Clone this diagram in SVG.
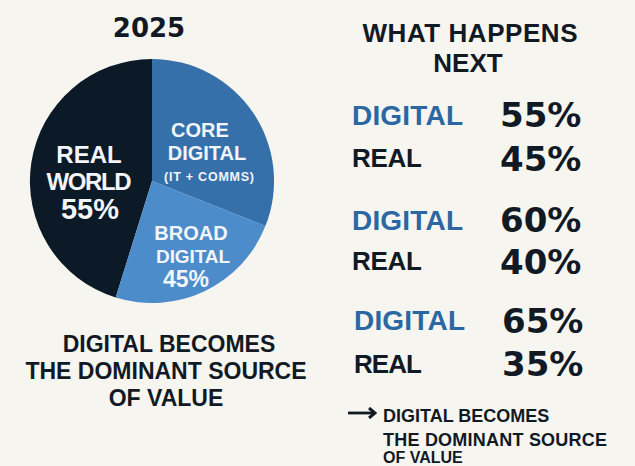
<svg xmlns="http://www.w3.org/2000/svg" width="635" height="466" viewBox="0 0 635 466">
  <defs>
    <style>
      text { font-family: "Liberation Sans", Arial, sans-serif; font-weight: bold; }
      .dark { fill: #111a24; }
      .blue { fill: #2b67a3; }
      .white { fill: #f2f5f9; }
      .mid { text-anchor: middle; }
      .pct { font-family: "DejaVu Sans", "Liberation Sans", sans-serif; font-size: 34px; fill: #111a24; }
    </style>
    <marker id="arrowhead" viewBox="0 0 10 12" refX="8" refY="6" markerWidth="10" markerHeight="12" markerUnits="userSpaceOnUse" orient="auto">
      <path d="M2,1 L8,6 L2,11" fill="none" stroke="#111a24" stroke-width="3"/>
    </marker>
  </defs>
  <rect width="635" height="466" fill="#f7f5f0"/>

  <g id="title-2025">
    <text class="dark mid" x="149" y="37" font-size="26" style="font-family: 'DejaVu Sans', 'Liberation Sans', sans-serif">2025</text>
  </g>

  <g id="pie">
    <path id="real-world" d="M152,181 L152,59 A122,122 0 0 0 115.7,297.5 Z" fill="#0c1926"/>
    <path id="core-digital" d="M152,181 L152,59 A122,122 0 0 1 265.4,226.1 Z" fill="#3570ab"/>
    <path id="broad-digital" d="M152,181 L265.4,226.1 A122,122 0 0 1 115.7,297.5 Z" fill="#4c8cca"/>
    <g class="white mid">
      <text x="89" y="163" font-size="24">REAL</text>
      <text x="89" y="190" font-size="24" textLength="85">WORLD</text>
      <text x="90" y="219" font-size="29">55%</text>
      <text x="200" y="137" font-size="20">CORE</text>
      <text x="207" y="160" font-size="20">DIGITAL</text>
      <text x="209" y="181" font-size="12.5" textLength="90">(IT + COMMS)</text>
      <text x="191" y="240" font-size="20">BROAD</text>
      <text x="193" y="263" font-size="19" textLength="74">DIGITAL</text>
      <text x="186" y="287" font-size="23">45%</text>
    </g>
  </g>

  <g id="left-caption">
    <text class="dark mid" x="169" y="352" font-size="23">DIGITAL BECOMES</text>
    <text class="dark mid" x="166" y="379" font-size="23">THE DOMINANT SOURCE</text>
    <text class="dark mid" x="166" y="406" font-size="23">OF VALUE</text>
  </g>

  <g id="right-title">
    <text class="dark mid" x="470" y="42" font-size="26" textLength="215">WHAT HAPPENS</text>
    <text class="dark mid" x="468" y="72" font-size="26">NEXT</text>
  </g>

  <g id="scenario-1">
    <text class="blue" x="352" y="125" font-size="28" textLength="111">DIGITAL</text>
    <text class="pct" x="500" y="127">55%</text>
    <text class="dark" x="352" y="167" font-size="26" textLength="70">REAL</text>
    <text class="pct" x="500" y="171">45%</text>
  </g>

  <g id="scenario-2">
    <text class="blue" x="352" y="230" font-size="28" textLength="111">DIGITAL</text>
    <text class="pct" x="500" y="232">60%</text>
    <text class="dark" x="352" y="270" font-size="26" textLength="70">REAL</text>
    <text class="pct" x="500" y="274">40%</text>
  </g>

  <g id="scenario-3">
    <text class="blue" x="354" y="330" font-size="28" textLength="111">DIGITAL</text>
    <text class="pct" x="502" y="333">65%</text>
    <text class="dark" x="354" y="373" font-size="26" textLength="68">REAL</text>
    <text class="pct" x="502" y="376">35%</text>
  </g>

  <g id="connectors">
    <path d="M348,413 L375,413" fill="none" stroke="#111a24" stroke-width="2.8" marker-end="url(#arrowhead)"/>
  </g>

  <g id="right-caption">
    <text class="dark" x="383" y="422" font-size="18">DIGITAL BECOMES</text>
    <text class="dark" x="383" y="446" font-size="18" textLength="224">THE DOMINANT SOURCE</text>
    <text class="dark" x="383" y="463" font-size="16">OF VALUE</text>
  </g>
</svg>
